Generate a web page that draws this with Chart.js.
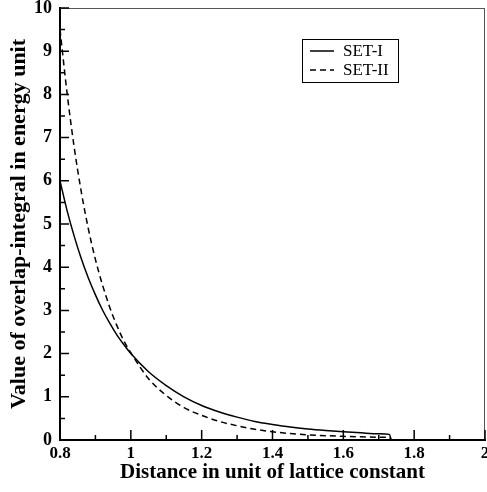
<!DOCTYPE html>
<html>
<head>
<meta charset="utf-8">
<script src="https://cdn.jsdelivr.net/npm/chart.js@4/dist/chart.umd.min.js"></script>
<style>
  html, body { margin: 0; padding: 0; background: #fff; }
  #wrap { width: 487px; height: 492px; }
</style>
</head>
<body>
<div id="wrap"><canvas id="myChart" width="487" height="492"></canvas></div>
<script>
// values
var distance = [0.8, 0.82, 0.84, 0.86, 0.88, 0.9, 0.92, 0.94, 0.96, 0.98, 1.0, 1.05, 1.1, 1.15, 1.2, 1.25, 1.3, 1.35, 1.4, 1.45, 1.5, 1.55, 1.6, 1.65, 1.7, 1.73, 1.735];
var setI  = [6.0, 5.31, 4.72, 4.20, 3.75, 3.36, 3.01, 2.71, 2.44, 2.21, 2.0, 1.58, 1.26, 1.00, 0.80, 0.65, 0.53, 0.43, 0.36, 0.30, 0.255, 0.22, 0.19, 0.165, 0.145, 0.13, 0];
var setII = [9.5, 8.03, 6.78, 5.75, 4.89, 4.18, 3.59, 3.08, 2.66, 2.30, 2.02, 1.42, 1.03, 0.75, 0.57, 0.43, 0.33, 0.25, 0.19, 0.15, 0.12, 0.10, 0.085, 0.075, 0.065, 0.06, 0];
var seriesNames = ['SET-I', 'SET-II'];
var xTicks = [0.8, 1, 1.2, 1.4, 1.6, 1.8, 2];
var yTicks = [0, 1, 2, 3, 4, 5, 6, 7, 8, 9, 10];

function points(ys) {
    return distance.map(function (x, i) { return { x: x, y: ys[i] }; });
}

var serif = '"Liberation Serif", "DejaVu Serif", serif';

// inward ticks, top/right frame and the boxed legend
var frame = {
    id: 'frame',
    afterDatasetsDraw: function (chart) {
        var c = chart.ctx, a = chart.chartArea;
        var xs = chart.scales.x, ys = chart.scales.y;
        c.save();
        c.strokeStyle = '#555';
        c.lineWidth = 1;
        c.beginPath();
        c.moveTo(a.left, a.top + 0.5); c.lineTo(a.right, a.top + 0.5);
        c.moveTo(a.right - 0.5, a.top); c.lineTo(a.right - 0.5, a.bottom);
        c.stroke();

        c.strokeStyle = '#000';
        c.lineWidth = 1.5;
        c.beginPath();
        for (var v = 0.8; v <= 2.0001; v += 0.1) {
            var px = xs.getPixelForValue(v);
            var major = Math.abs(Math.round(v * 10) % 2) === 0;
            c.moveTo(px, a.bottom); c.lineTo(px, a.bottom - (major ? 10 : 5));
        }
        for (var w = 0; w <= 10.0001; w += 0.5) {
            var py = ys.getPixelForValue(w);
            var maj = Math.abs(w - Math.round(w)) < 0.01;
            c.moveTo(a.left, py); c.lineTo(a.left + (maj ? 9 : 5), py);
        }
        c.stroke();

        // legend
        var bx = 302, by = 39, bw = 96, bh = 43;
        c.lineWidth = 1;
        c.strokeStyle = '#000';
        c.strokeRect(bx + 0.5, by + 0.5, bw, bh);
        c.font = '17px ' + serif;
        c.fillStyle = '#000';
        c.textBaseline = 'middle';
        chart.data.datasets.forEach(function (ds, i) {
            var ly = by + 12 + i * 19;
            c.lineWidth = 1.5;
            c.setLineDash(ds.borderDash || []);
            c.beginPath();
            c.moveTo(bx + 8, ly); c.lineTo(bx + 32, ly);
            c.stroke();
            c.setLineDash([]);
            c.fillText(ds.label, bx + 41, ly + 1);
        });
        c.restore();
    }
};

var ctx = document.getElementById('myChart').getContext('2d');
var chart = new Chart(ctx, {
    type: 'scatter',
    data: {
        datasets: [{
            label: seriesNames[0],
            data: points(setI),
            showLine: true,
            borderColor: '#000',
            borderWidth: 1.5,
            pointRadius: 0,
            cubicInterpolationMode: 'monotone'
        }, {
            label: seriesNames[1],
            data: points(setII),
            showLine: true,
            borderColor: '#000',
            borderWidth: 1.5,
            borderDash: [6, 4],
            pointRadius: 0,
            cubicInterpolationMode: 'monotone'
        }]
    },
    options: {
        responsive: false,
        animation: false,
        layout: { padding: 0 },
        plugins: {
            legend: { display: false },
            tooltip: { enabled: false }
        },
        scales: {
            x: {
                type: 'linear',
                min: 0.8,
                max: 2,
                afterBuildTicks: function (s) { s.ticks = xTicks.map(function (v) { return { value: v }; }); },
                afterFit: function (s) { s.height = 52; s.paddingLeft = 0; s.paddingRight = 2; },
                grid: { display: false, drawTicks: false },
                border: { display: true, color: '#000', width: 2 },
                ticks: {
                    padding: 3,
                    color: '#000',
                    font: { family: serif, size: 17, weight: 'bold' },
                    maxRotation: 0,
                    callback: function (v) { return String(Math.round(v * 10) / 10); }
                },
                title: {
                    display: true,
                    text: 'Distance in unit of lattice constant',
                    color: '#000',
                    font: { family: serif, size: 21, weight: 'bold' },
                    padding: { top: 0, bottom: 7 }
                }
            },
            y: {
                min: 0,
                max: 10,
                afterBuildTicks: function (s) { s.ticks = yTicks.map(function (v) { return { value: v }; }); },
                afterFit: function (s) { s.width = 60; s.paddingTop = 8; s.paddingBottom = 0; },
                grid: { display: false, drawTicks: false },
                border: { display: true, color: '#000', width: 2 },
                ticks: {
                    padding: 8,
                    color: '#000',
                    font: { family: serif, size: 18, weight: 'bold' }
                },
                title: {
                    display: true,
                    text: 'Value of overlap-integral in energy unit',
                    color: '#000',
                    font: { family: serif, size: 22, weight: 'bold' },
                    padding: { top: 6, bottom: 0 }
                }
            }
        }
    },
    plugins: [frame]
});
</script>
</body>
</html>
